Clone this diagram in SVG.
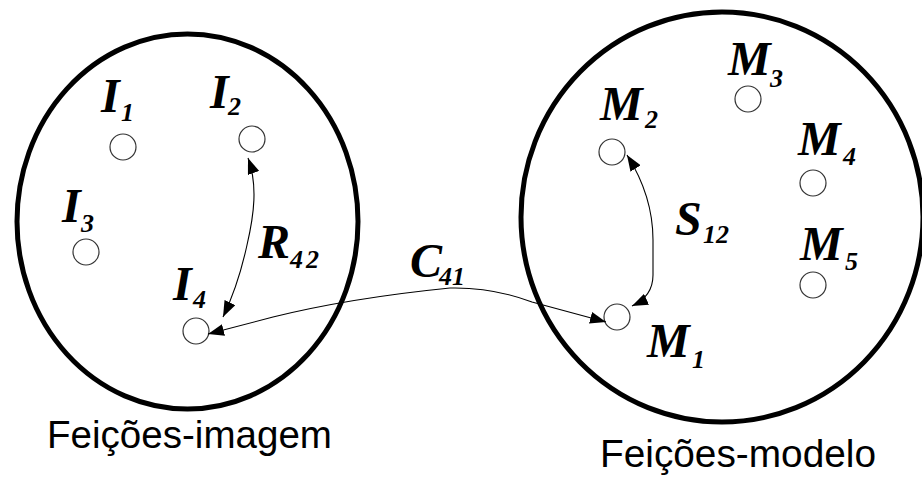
<svg xmlns="http://www.w3.org/2000/svg" width="922" height="477" viewBox="0 0 922 477">
<style>
.set{fill:none;stroke:#000;stroke-width:5}
.pt{fill:#fff;stroke:#333;stroke-width:1.2}
.lb{font-family:"Liberation Serif","Times New Roman",serif;font-style:italic;font-weight:bold;font-size:48px;fill:#000}
.sb{font-family:"Liberation Serif","Times New Roman",serif;font-style:italic;font-weight:bold;font-size:26px;fill:#000}
.cap{font-family:"Liberation Sans",Arial,sans-serif;font-size:39px;fill:#000}
.ln{fill:none;stroke:#000;stroke-width:1.1}
</style>
<defs>
<marker id="ah" viewBox="0 0 16 12" refX="16" refY="6" markerWidth="16" markerHeight="12" markerUnits="userSpaceOnUse" orient="auto-start-reverse">
<path d="M0,0 L16,6 L0,12 Z" fill="#000"/>
</marker>
</defs>
<rect width="922" height="477" fill="#fff"/>
<g id="set-imagem">
<ellipse class="set" cx="187.5" cy="221.5" rx="170.5" ry="187.5"/>
<text class="cap" x="47" y="448" textLength="285" lengthAdjust="spacingAndGlyphs">Feições-imagem</text>
</g>
<g id="set-modelo">
<ellipse class="set" cx="722" cy="217" rx="201" ry="205"/>
<text class="cap" x="600" y="467" textLength="276" lengthAdjust="spacingAndGlyphs">Feições-modelo</text>
</g>
<g id="I1"><circle class="pt" cx="123" cy="147" r="13"/><text class="lb" x="101" y="112">I</text><text class="sb" x="121" y="121">1</text></g>
<g id="I2"><circle class="pt" cx="252" cy="139" r="13"/><text class="lb" x="210" y="108">I</text><text class="sb" x="228" y="115">2</text></g>
<g id="I3"><circle class="pt" cx="86" cy="252" r="13"/><text class="lb" x="62" y="222">I</text><text class="sb" x="81" y="232">3</text></g>
<g id="I4"><circle class="pt" cx="196" cy="331" r="13"/><text class="lb" x="173" y="300">I</text><text class="sb" x="193" y="308">4</text></g>
<g id="M1"><circle class="pt" cx="617" cy="317" r="13"/><text class="lb" x="647" y="357">M</text><text class="sb" x="692" y="368">1</text></g>
<g id="M2"><circle class="pt" cx="612" cy="152" r="13"/><text class="lb" x="600" y="120">M</text><text class="sb" x="645" y="128">2</text></g>
<g id="M3"><circle class="pt" cx="748" cy="99" r="13"/><text class="lb" x="728" y="75">M</text><text class="sb" x="770" y="87">3</text></g>
<g id="M4"><circle class="pt" cx="813" cy="183" r="13"/><text class="lb" x="798" y="155">M</text><text class="sb" x="843" y="165">4</text></g>
<g id="M5"><circle class="pt" cx="813" cy="285" r="13"/><text class="lb" x="800" y="260">M</text><text class="sb" x="845" y="270">5</text></g>
<g id="connectors">
<path class="ln" d="M248,158 C258,185 254,215 247,245 C242,268 236,290 223,317" marker-start="url(#ah)" marker-end="url(#ah)"/>
<path class="ln" d="M208,334 L273,317 Q350,298 450,288 Q492,287 532,302 L606,322" marker-start="url(#ah)" marker-end="url(#ah)"/>
<path class="ln" d="M627,155 C646,185 653,215 653,240 L653,275 C653,290 645,300 632,306" marker-start="url(#ah)" marker-end="url(#ah)"/>
<text class="lb" x="258" y="258">R</text><text class="sb" x="290" y="268" letter-spacing="3">42</text>
<text class="lb" x="410" y="277">C</text><text class="sb" x="439" y="285">41</text>
<text class="lb" x="675" y="235">S</text><text class="sb" x="703" y="243">12</text>
</g>
</svg>
